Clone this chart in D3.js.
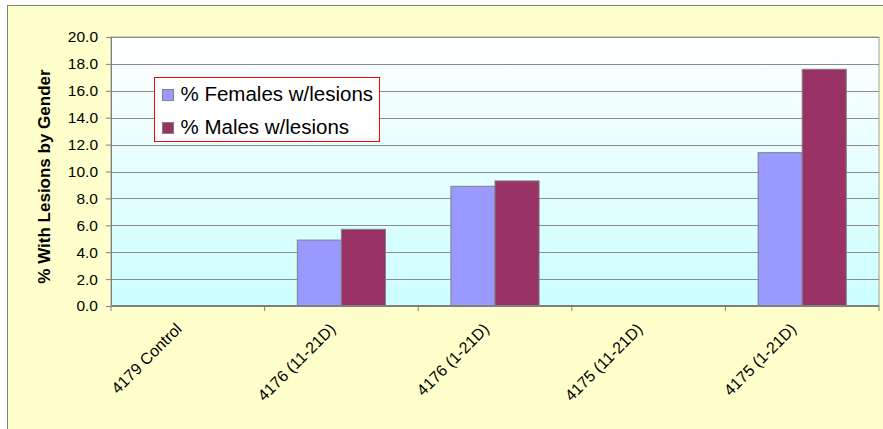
<!DOCTYPE html>
<html>
<head>
<meta charset="utf-8">
<script src="https://cdn.jsdelivr.net/npm/d3@7"></script>
<style>
  body { margin: 0; background: #fff; }
  text { font-family: Arial, "Liberation Sans", sans-serif; }
</style>
</head>
<body>
<div id="chart"></div>
<script>
const categories = ['4179 Control', '4176 (11-21D)', '4176 (1-21D)', '4175 (11-21D)', '4175 (1-21D)'];
const females = [0, 4.9, 8.9, 0, 11.4];
const males = [0, 5.7, 9.3, 0, 17.6];
const seriesNames = ['% Females w/lesions', '% Males w/lesions'];
const seriesColors = ['#9999ff', '#993366'];
const yTicks = [0, 2, 4, 6, 8, 10, 12, 14, 16, 18, 20];

const w = 883, h = 429;
const margin = {top: 37, right: 4, bottom: 123, left: 111};
const width = w - margin.left - margin.right,
    height = h - margin.top - margin.bottom;

const svg = d3.select('#chart').append('svg')
    .attr('width', w)
    .attr('height', h);

// chart area background
svg.append('rect')
    .attr('x', 7.5).attr('y', 5.5)
    .attr('width', w).attr('height', h)
    .attr('fill', '#ffffcc')
    .attr('stroke', '#808080');

let defs = svg.append('defs');
let grad = defs.append('linearGradient')
    .attr('id', 'plotbg')
    .attr('x1', 0).attr('y1', 0).attr('x2', 0).attr('y2', 1);
grad.append('stop').attr('offset', '0%').attr('stop-color', '#ffffff');
grad.append('stop').attr('offset', '100%').attr('stop-color', '#ccffff');

const g = svg.append('g')
    .attr('transform', 'translate(' + margin.left + ',' + margin.top + ')');

g.append('rect')
    .attr('width', width).attr('height', height)
    .attr('fill', 'url(#plotbg)')
    .attr('stroke', '#a0a0a0');

const x = d3.scaleBand().domain(categories).range([0, width]).paddingInner(0).paddingOuter(0);
const y = d3.scaleLinear().domain([0, 20]).range([height, 0]);

// gridlines
g.append('g')
    .selectAll('line')
    .data(yTicks.slice(1))
    .enter().append('line')
    .attr('x1', 0).attr('x2', width)
    .attr('y1', d => Math.round(y(d)) + 0.5)
    .attr('y2', d => Math.round(y(d)) + 0.5)
    .attr('stroke', '#8c8c8c')
    .attr('stroke-width', 1);

// bars
const bw = x.bandwidth() * 0.287;
const series = [females, males];
series.forEach(function (vals, si) {
    g.append('g')
        .selectAll('rect')
        .data(vals.map((v, i) => ({cat: categories[i], v: v})).filter(d => d.v > 0))
        .enter().append('rect')
        .attr('x', d => x(d.cat) + x.bandwidth() / 2 - bw + si * bw)
        .attr('y', d => y(d.v))
        .attr('width', bw)
        .attr('height', d => height - y(d.v))
        .attr('fill', seriesColors[si])
        .attr('stroke', '#808080')
        .attr('stroke-width', 1);
});

// y axis
const yAxis = g.append('g')
    .call(d3.axisLeft(y).tickValues(yTicks).tickFormat(d3.format('.1f')).tickSize(5).tickPadding(8));
yAxis.select('.domain').attr('stroke', '#808080');
yAxis.selectAll('line').attr('stroke', '#808080');
yAxis.selectAll('text')
    .attr('font-size', 15.5)
    .attr('font-family', 'Arial, "Liberation Sans", sans-serif')
    .attr('fill', '#000');

// x axis
const xAxis = g.append('g')
    .attr('transform', 'translate(0,' + height + ')');
xAxis.append('line')
    .attr('x1', 0).attr('x2', width)
    .attr('stroke', '#808080').attr('stroke-width', 2);
xAxis.selectAll('line.tick')
    .data(d3.range(categories.length + 1))
    .enter().append('line')
    .attr('class', 'tick')
    .attr('x1', i => i * x.step()).attr('x2', i => i * x.step())
    .attr('y1', 0).attr('y2', 5)
    .attr('stroke', '#808080');
xAxis.selectAll('text')
    .data(categories)
    .enter().append('text')
    .attr('transform', d => 'translate(' + (x(d) + x.bandwidth() / 2 - 5) + ',24) rotate(-45)')
    .attr('text-anchor', 'end')
    .attr('font-size', 16)
    .attr('fill', '#000')
    .text(d => d);

// y label
svg.append('text')
    .attr('transform', 'translate(50,' + (margin.top + height / 2 + 5) + ') rotate(-90)')
    .attr('text-anchor', 'middle')
    .attr('font-size', 17)
    .attr('font-weight', 'bold')
    .text('% With Lesions by Gender');

// legend
const legend = svg.append('g').attr('transform', 'translate(154.5,77.5)');
legend.append('rect')
    .attr('width', 225).attr('height', 64)
    .attr('fill', '#ffffff')
    .attr('stroke', '#ff0000');
seriesNames.forEach(function (name, i) {
    let row = legend.append('g').attr('transform', 'translate(8,' + (12 + i * 33) + ')');
    row.append('rect')
        .attr('width', 11).attr('height', 11)
        .attr('fill', seriesColors[i])
        .attr('stroke', '#808080');
    row.append('text')
        .attr('x', 18).attr('y', 11)
        .attr('font-size', 20.5)
        .text(name);
});
</script>
</body>
</html>
